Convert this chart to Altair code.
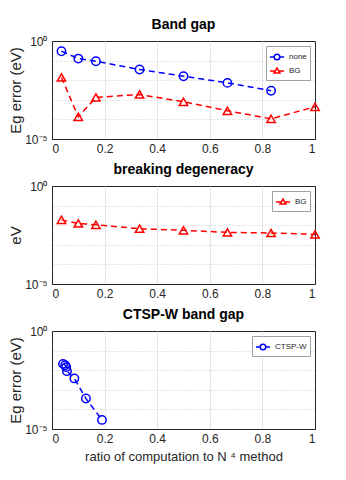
import altair as alt
import pandas as pd

# Panel 1: Band gap
x_bg = [0.036, 0.1, 0.167, 0.333, 0.5, 0.667, 0.833, 1.0]
none_vals = [0.30, 0.127, 0.093, 0.035, 0.016, 0.0073, 0.0029]
bg_vals = [0.0138, 1.35e-4, 1.32e-3, 1.87e-3, 7.9e-4, 2.75e-4, 1.07e-4, 4.4e-4]

# Panel 2: breaking degeneracy
deg_vals = [0.0187, 0.0123, 0.0105, 0.0066, 0.0055, 0.0043, 0.0040, 0.0034]

# Panel 3: CTSP-W band gap
x_ctsp = [0.042, 0.05, 0.054, 0.057, 0.085, 0.129, 0.19]
ctsp_vals = [0.021, 0.018, 0.0144, 0.0089, 0.0038, 3.6e-4, 2.9e-5]

BLUE = "#0000ff"
RED = "#ff0000"
FONT = "Liberation Sans"

CIRCLE = "circle"
TRIANGLE = "triangle-up"
LEG_CIRCLE = "M-1,0L-0.4,0M0.4,0L1,0M0.4,0A0.4,0.4 0 1,1 -0.4,0A0.4,0.4 0 1,1 0.4,0"
LEG_TRIANGLE = "M-1,0L-0.3,0M0.3,0L1,0M0,-0.42L0.42,0.3L-0.42,0.3Z"

df1 = pd.DataFrame({"x": x_bg[:7], "y": none_vals, "s": ["none"] * 7})
df1 = pd.concat([df1, pd.DataFrame({"x": x_bg, "y": bg_vals, "s": ["BG"] * 8})])
df2 = pd.DataFrame({"x": x_bg, "y": deg_vals, "s": ["BG"] * 8})
df3 = pd.DataFrame({"x": x_ctsp, "y": ctsp_vals, "s": ["CTSP-W"] * 7})

W, H = 263, 98

label_expr_y = "datum.value >= 0.99 ? '10⁰' : (datum.value <= 1.1e-5 ? '10⁻⁵' : '')"


def panel(df, title, ytitle, xtitle, domain, colors, shapes, legshapes):
    xenc = alt.X(
        "x:Q",
        scale=alt.Scale(domain=[0, 1], nice=False),
        axis=alt.Axis(
            values=[0, 0.2, 0.4, 0.6, 0.8, 1],
            format="~g",
            title=xtitle,
            grid=True,
            gridColor="#e6e6e6",
            gridOpacity={"condition": {"test": "datum.value <= 0.001 || datum.value >= 0.999", "value": 0}, "value": 1},
            domainColor="#262626",
            ticks=False,
            labelFontSize=12,
            labelColor="#262626",
            titleFontSize=13,
            titleFontWeight="normal",
            titleColor="#262626",
            titlePadding=6,
            labelPadding=4,
        ),
    )
    yenc = alt.Y(
        "y:Q",
        scale=alt.Scale(type="log", domain=[1e-5, 1], nice=False),
        axis=alt.Axis(
            values=[1, 0.1, 0.01, 0.001, 1e-4, 1e-5],
            labelExpr=label_expr_y,
            title=ytitle,
            grid=True,
            gridColor="#cccccc",
            gridDash=[1, 2],
            gridOpacity={"condition": {"test": "datum.value >= 0.99 || datum.value <= 1.1e-5", "value": 0}, "value": 1},
            domainColor="#262626",
            ticks=False,
            labelFontSize=12,
            labelColor="#262626",
            titleFontSize=15,
            titleFontWeight="normal",
            titleColor="#262626",
            titlePadding=1,
            labelPadding=5,
        ),
    )
    layers = []
    for name, col, shp in zip(domain, colors, shapes):
        sub = alt.Chart(df).transform_filter(alt.datum.s == name)
        layers.append(
            sub.mark_line(strokeDash=[6, 4], strokeWidth=1.5, color=col).encode(x=xenc, y=yenc)
        )
        layers.append(
            sub.mark_point(filled=False, size=70, strokeWidth=1.5, opacity=1, shape=shp, color=col)
            .encode(x=xenc, y=yenc)
        )
    layers.append(
        alt.Chart(df)
        .transform_filter("false")
        .mark_point(filled=False, strokeWidth=1.5, opacity=1)
        .encode(
            x=xenc,
            y=yenc,
            fill=alt.value("white"),
            stroke=alt.Stroke(
                "s:N",
                scale=alt.Scale(domain=domain, range=colors),
                legend=alt.Legend(title=None),
            ),
            shape=alt.Shape(
                "s:N",
                scale=alt.Scale(domain=domain, range=legshapes),
                legend=alt.Legend(title=None),
            ),
        )
    )
    return alt.layer(*layers).properties(
        width=W,
        height=H,
        title=alt.TitleParams(title, fontSize=14, fontWeight="bold", font=FONT, color="black", offset=3),
    )


p1 = panel(df1, "Band gap", "Eg error (eV)", None, ["none", "BG"], [BLUE, RED],
           [CIRCLE, TRIANGLE], [LEG_CIRCLE, LEG_TRIANGLE])
p2 = panel(df2, "breaking degeneracy", "eV", None, ["BG"], [RED], [TRIANGLE], [LEG_TRIANGLE])
p3 = panel(
    df3,
    "CTSP-W band gap",
    "Eg error (eV)",
    "ratio of computation to N ⁴ method",
    ["CTSP-W"],
    [BLUE],
    [CIRCLE],
    [LEG_CIRCLE],
)

chart = (
    alt.vconcat(p1, p2, p3, spacing=7)
    .resolve_scale(shape="independent", stroke="independent")
    .configure(font=FONT, padding={"left": 0, "top": 9, "right": 5, "bottom": 5})
    .configure_view(stroke="#262626", strokeWidth=1)
    .configure_axis(labelFont=FONT, titleFont=FONT)
    .configure_legend(
        orient="top-right",
        offset=5,
        strokeColor="#a0a0a0",
        fillColor="white",
        padding=3,
        labelFontSize=8,
        labelFont=FONT,
        labelColor="#262626",
        symbolSize=200,
        symbolStrokeWidth=1.5,
        rowPadding=0,
        symbolFillColor="white",
    )
)

chart.save("out.html", embed_options={"renderer": "svg", "actions": False})
